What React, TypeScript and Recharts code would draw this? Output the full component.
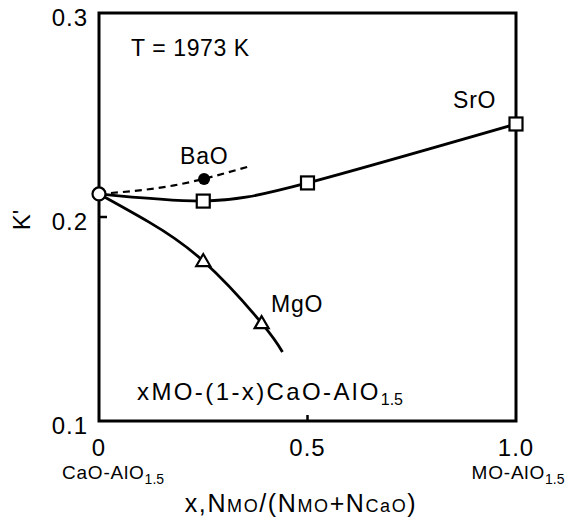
import { ComposedChart, Line, Scatter, XAxis, YAxis, ReferenceArea } from 'recharts';

// axis ticks
const xTicks = [0, 0.5, 1.0];
const xTickLabels = ['0', '0.5', '1.0'];
const xSubLabels = ['CaO-AlO', '', 'MO-AlO'];
const yTicks = [0.1, 0.2, 0.3];
const yTickLabels = ['0.1', '0.2', '0.3'];

// curves
const srCurveX = [0, 0.25, 0.5, 1.0];
const srCurveK = [0.2113, 0.2078, 0.2167, 0.2456];
const mgCurveX = [0, 0.12, 0.25, 0.39, 0.44];
const mgCurveK = [0.2113, 0.1975, 0.1784, 0.148, 0.1338];
const baCurveX = [0, 0.18, 0.365];
const baCurveK = [0.2113, 0.2155, 0.2251];

// measured points
const caoX = [0];
const caoK = [0.2113];
const srX = [0.25, 0.5, 1.0];
const srK = [0.2078, 0.2167, 0.2456];
const mgX = [0.25, 0.39];
const mgK = [0.1784, 0.148];
const baX = [0.252];
const baK = [0.2186];

const FONT = '"Liberation Sans", Arial, sans-serif';

const pts = (xs: number[], ks: number[]) => xs.map((x, i) => ({ x, k: ks[i] }));

function XTick({ x, y, payload }: any) {
  const i = xTicks.indexOf(payload.value);
  return (
    <g>
      {payload.value === 0.5 && <line x1={x} x2={x} y1={y} y2={y - 6} stroke="#000" strokeWidth={2.5} />}
      <text x={x} y={y + 35} textAnchor="middle" fontSize={24} fontFamily={FONT} fill="#000" letterSpacing={1}>
        {xTickLabels[i]}
      </text>
      {xSubLabels[i] && (
        <text
          x={i === 0 ? x + 14 : x + 2}
          y={y + 58}
          textAnchor="middle"
          fontSize={19}
          fontFamily={FONT}
          fill="#000"
          letterSpacing={0.8}
        >
          {xSubLabels[i]}
          <tspan fontSize={14} dy={5} letterSpacing={0}>1.5</tspan>
        </text>
      )}
    </g>
  );
}

function YTick({ x, y, payload }: any) {
  const i = yTicks.indexOf(payload.value);
  return (
    <g>
      {payload.value === 0.2 && <line x1={x} x2={x + 8} y1={y} y2={y} stroke="#000" strokeWidth={2.5} />}
      <text x={x - 11} y={y + 13} textAnchor="end" fontSize={24} fontFamily={FONT} fill="#000" letterSpacing={1}>
        {yTickLabels[i]}
      </text>
    </g>
  );
}

function RightTick({ x, y }: any) {
  return <line x1={x} x2={x - 8} y1={y} y2={y} stroke="#000" strokeWidth={2.5} />;
}

const square = ({ cx, cy }: any) => (
  <rect x={cx - 6.5} y={cy - 6.5} width={13} height={13} fill="#fff" stroke="#000" strokeWidth={2.2} />
);
const triangle = ({ cx, cy }: any) => (
  <polygon points={`${cx},${cy - 7} ${cx - 7},${cy + 5} ${cx + 7},${cy + 5}`} fill="#fff" stroke="#000" strokeWidth={2.2} />
);
const openCircle = ({ cx, cy }: any) => <circle cx={cx} cy={cy} r={6.5} fill="#fff" stroke="#000" strokeWidth={2.2} />;
const dot = ({ cx, cy }: any) => <circle cx={cx} cy={cy} r={6} fill="#000" />;

export default function App() {
  return (
    <div style={{ position: 'absolute', left: 0, top: 0, width: 571, height: 521, background: '#fff' }}>
      <ComposedChart width={571} height={521} margin={{ top: 13, right: 0, bottom: 0, left: 0 }}>
        <XAxis
          type="number"
          dataKey="x"
          domain={[0, 1]}
          ticks={xTicks}
          height={100}
          axisLine={false}
          tickLine={false}
          tickSize={0}
          tickMargin={0}
          tick={<XTick />}
          interval={0}
        />
        <YAxis
          type="number"
          dataKey="k"
          domain={[0.1, 0.3]}
          ticks={yTicks}
          width={99}
          axisLine={false}
          tickLine={false}
          tickSize={0}
          tickMargin={0}
          tick={<YTick />}
          interval={0}
        />
        <YAxis
          yAxisId="r"
          orientation="right"
          type="number"
          domain={[0.1, 0.3]}
          ticks={[0.2]}
          width={55}
          axisLine={false}
          tickLine={false}
          tickSize={0}
          tickMargin={0}
          tick={<RightTick />}
        />
        <ReferenceArea x1={0} x2={1} y1={0.1} y2={0.3} fill="none" stroke="#000" strokeWidth={3} />
        <Line data={pts(srCurveX, srCurveK)} dataKey="k" type="natural" stroke="#000" strokeWidth={2.8} dot={false} isAnimationActive={false} />
        <Line data={pts(mgCurveX, mgCurveK)} dataKey="k" type="natural" stroke="#000" strokeWidth={2.8} dot={false} isAnimationActive={false} />
        <Line data={pts(baCurveX, baCurveK)} dataKey="k" type="natural" stroke="#000" strokeWidth={2.2} strokeDasharray="7 5" dot={false} isAnimationActive={false} />
        <Scatter data={pts(srX, srK)} dataKey="k" shape={square} isAnimationActive={false} />
        <Scatter data={pts(mgX, mgK)} dataKey="k" shape={triangle} isAnimationActive={false} />
        <Scatter data={pts(baX, baK)} dataKey="k" shape={dot} isAnimationActive={false} />
        <Scatter data={pts(caoX, caoK)} dataKey="k" shape={openCircle} isAnimationActive={false} />
      </ComposedChart>
      <svg width={571} height={521} style={{ position: 'absolute', left: 0, top: 0, pointerEvents: 'none' }} fontFamily={FONT} fill="#000">
        <text x={131} y={56} fontSize={23} letterSpacing={0.6}>T = 1973 K</text>
        <text x={180} y={164} fontSize={23} letterSpacing={0.8}>BaO</text>
        <text x={453} y={108} fontSize={23} letterSpacing={0.8}>SrO</text>
        <text x={271} y={312} fontSize={23} letterSpacing={0.8}>MgO</text>
        <text x={137} y={400} fontSize={24} letterSpacing={2.4}>
          xMO-(1-x)CaO-AlO<tspan fontSize={16} dy={5} letterSpacing={0}>1.5</tspan>
        </text>
        <text x={30} y={220} fontSize={24} textAnchor="middle" transform="rotate(-90 30 220)">K'</text>
        <text x={301} y={512} fontSize={25} textAnchor="middle" letterSpacing={1.6}>
          x,N<tspan fontSize={18}>MO</tspan>/(N<tspan fontSize={18}>MO</tspan>+N<tspan fontSize={18}>CaO</tspan>)
        </text>
      </svg>
    </div>
  );
}
